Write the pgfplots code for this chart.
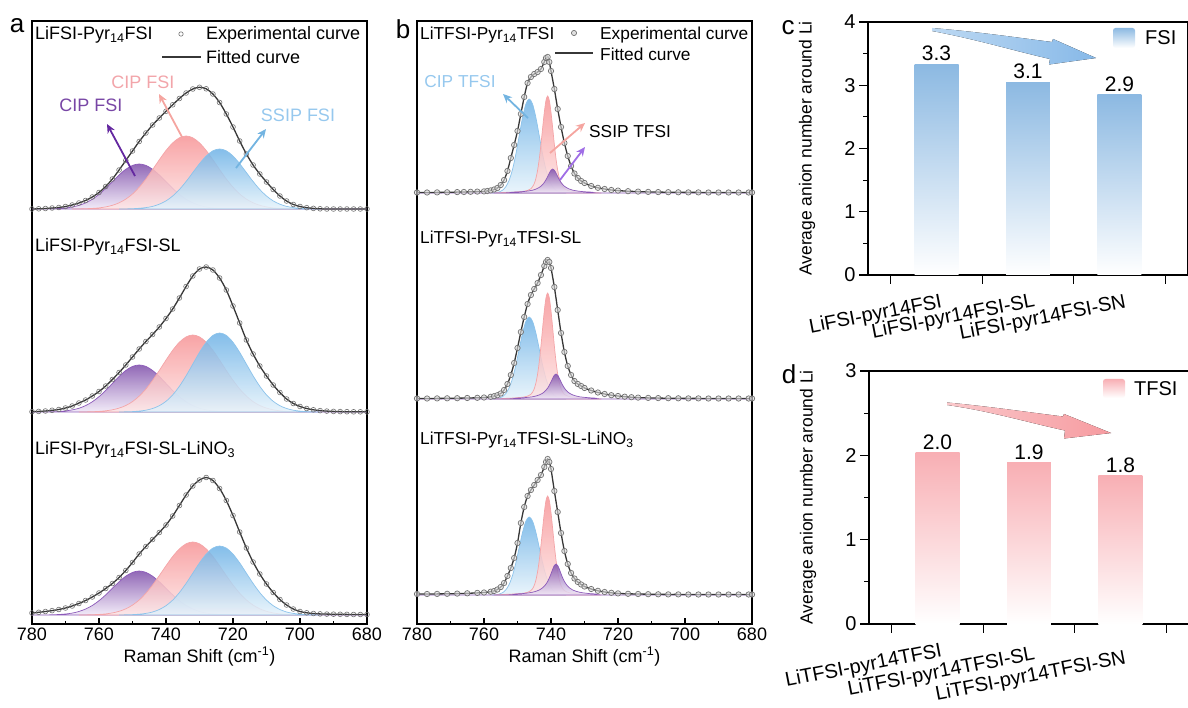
\documentclass[border=0pt]{standalone}
\usepackage{fontspec}
\setmainfont{Liberation Sans}
\usepackage{pgfplots}
\pgfplotsset{compat=1.18}
\usepackage{pgfplotstable}
\usetikzlibrary{arrows.meta}

\definecolor{purpTop}{RGB}{126,78,170}
\definecolor{purpBot}{RGB}{240,232,247}
\definecolor{purpLine}{RGB}{140,90,185}
\definecolor{pinkTop}{RGB}{247,148,150}
\definecolor{pinkBot}{RGB}{253,230,230}
\definecolor{pinkLine}{RGB}{244,165,168}
\definecolor{blueTop}{RGB}{110,178,230}
\definecolor{blueBot}{RGB}{230,243,251}
\definecolor{blueLine}{RGB}{140,195,235}
\definecolor{barBlue}{RGB}{140,185,226}
\definecolor{barPink}{RGB}{248,175,180}
\definecolor{arrBlue}{RGB}{135,185,232}
\definecolor{arrPink}{RGB}{246,155,160}
\definecolor{txtPurp}{RGB}{120,70,165}
\definecolor{txtPink}{RGB}{242,165,170}
\definecolor{txtBlue}{RGB}{150,200,238}
\definecolor{fitGray}{RGB}{55,55,55}
\definecolor{expGray}{RGB}{115,115,115}
\definecolor{aPurp}{RGB}{100,40,160}
\definecolor{aPink}{RGB}{245,165,160}
\definecolor{aBlue}{RGB}{115,180,225}
\definecolor{bPurp}{RGB}{160,110,230}

% ---------- panel a : top (LiFSI-Pyr14FSI), baseline 415 ----------
\pgfplotstableread[row sep=\\]{x y\\780 0\\778 0\\776 0.1\\774 0.2\\772 0.5\\770 1.0\\768 2.0\\766 3.6\\764 6.1\\762 9.7\\760 14.6\\758 20.6\\756 27.3\\754 34.0\\752 39.7\\750 43.6\\748 45\\746 43.6\\744 39.7\\742 34.0\\740 27.3\\738 20.6\\736 14.6\\734 9.7\\732 6.1\\730 3.6\\728 2.0\\726 1.0\\724 0.5\\722 0.2\\720 0.1\\718 0\\680 0\\}\aTP
\pgfplotstableread[row sep=\\]{x y\\768 0\\766 0.1\\764 0.3\\762 0.6\\760 1.1\\758 2.1\\756 3.7\\754 6.2\\752 9.9\\750 15.0\\748 21.8\\746 30.0\\744 39.4\\742 49.2\\740 58.5\\738 66.1\\736 71.2\\734 73\\732 71.2\\730 66.1\\728 58.5\\726 49.2\\724 39.4\\722 30.0\\720 21.8\\718 15.0\\716 9.9\\714 6.2\\712 3.7\\710 2.1\\708 1.1\\706 0.6\\704 0.3\\702 0.1\\700 0\\}\aTR
\pgfplotstableread[row sep=\\]{x y\\754 0\\752 0.1\\750 0.3\\748 0.7\\746 1.4\\744 2.6\\742 4.8\\740 8.1\\738 13.0\\736 19.5\\734 27.5\\732 36.4\\730 45.3\\728 53.0\\726 58.2\\724 60\\722 58.2\\720 53.0\\718 45.3\\716 36.4\\714 27.5\\712 19.5\\710 13.0\\708 8.1\\706 4.8\\704 2.6\\702 1.4\\700 0.7\\698 0.3\\696 0.1\\694 0\\}\aTB
\pgfplotstableread[row sep=\\]{x y\\780 0\\778 0.2\\776 0.5\\774 1.0\\772 1.5\\770 2.5\\768 4\\766 6\\764 8.5\\762 12\\760 16.5\\758 22.5\\756 30\\754 39\\752 48.5\\750 58\\748 67.5\\746 76\\744 84\\742 91\\740 97.7\\738 104.2\\736 110.5\\734 116\\732 120\\730 121.7\\728 120.2\\726 115\\724 106.5\\722 95\\720 82\\718 68\\716 55\\714 44\\712 35\\710 27\\708 19.5\\706 13\\704 8\\702 4.5\\700 2.5\\698 1.3\\696 0.6\\694 0.2\\692 0\\690 0\\688 0\\686 0\\684 0\\682 0\\680 0\\}\aTS
% ---------- panel a : middle (SL), baseline 212 ----------
\pgfplotstableread[row sep=\\]{x y\\780 0\\778 0\\776 0.1\\774 0.2\\772 0.5\\770 1.1\\768 2.1\\766 3.7\\764 6.4\\762 10.2\\760 15.3\\758 21.5\\756 28.5\\754 35.5\\752 41.5\\750 45.6\\748 47\\746 45.6\\744 41.5\\742 35.5\\740 28.5\\738 21.5\\736 15.3\\734 10.2\\732 6.4\\730 3.7\\728 2.1\\726 1.1\\724 0.5\\722 0.2\\720 0.1\\718 0\\680 0\\}\aMP
\pgfplotstableread[row sep=\\]{x y\\766 0\\764 0.1\\762 0.3\\760 0.6\\758 1.2\\756 2.2\\754 3.9\\752 6.5\\750 10.4\\748 15.9\\746 23.0\\744 31.7\\742 41.5\\740 51.9\\738 61.7\\736 69.8\\734 75.1\\732 77\\730 75.1\\728 69.8\\726 61.7\\724 51.9\\722 41.5\\720 31.7\\718 23.0\\716 15.9\\714 10.4\\712 6.5\\710 3.9\\708 2.2\\706 1.2\\704 0.6\\702 0.3\\700 0.1\\698 0\\}\aMR
\pgfplotstableread[row sep=\\]{x y\\754 0\\752 0.2\\750 0.4\\748 0.9\\746 1.8\\744 3.5\\742 6.3\\740 10.7\\738 17.1\\736 25.7\\734 36.2\\732 47.9\\730 59.6\\728 69.7\\726 76.6\\724 79\\722 76.6\\720 69.7\\718 59.6\\716 47.9\\714 36.2\\712 25.7\\710 17.1\\708 10.7\\706 6.3\\704 3.5\\702 1.8\\700 0.9\\698 0.4\\696 0.2\\694 0\\}\aMB
\pgfplotstableread[row sep=\\]{x y\\780 0.3\\778 0.6\\776 1\\774 1.7\\772 2.5\\770 4\\768 6\\766 9\\764 12\\762 16\\760 20.5\\758 26\\756 32.5\\754 39.5\\752 47\\750 55\\748 63\\746 70.5\\744 77.5\\742 85\\740 93.5\\738 103\\736 114\\734 125.5\\732 136\\730 143\\728 145\\726 142\\724 134\\722 122\\720 106\\718 89\\716 72\\714 58\\712 46\\710 36\\708 27\\706 19.5\\704 13\\702 8.5\\700 5.5\\698 3.5\\696 2.2\\694 1.4\\692 0.9\\690 0.6\\688 0.4\\686 0.3\\684 0.2\\682 0.2\\680 0.2\\}\aMS
% ---------- panel a : bottom (SL-LiNO3), baseline 9 ----------
\pgfplotstableread[row sep=\\]{x y\\780 0\\778 0\\776 0.1\\774 0.2\\772 0.5\\770 1.0\\768 1.9\\766 3.5\\764 6.0\\762 9.5\\760 14.3\\758 20.1\\756 26.7\\754 33.2\\752 38.8\\750 42.6\\748 44\\746 42.6\\744 38.8\\742 33.2\\740 26.7\\738 20.1\\736 14.3\\734 9.5\\732 6.0\\730 3.5\\728 1.9\\726 1.0\\724 0.5\\722 0.2\\720 0.1\\718 0\\680 0\\}\aBP
\pgfplotstableread[row sep=\\]{x y\\766 0\\764 0.1\\762 0.3\\760 0.6\\758 1.1\\756 2.1\\754 3.7\\752 6.2\\750 9.9\\748 15.0\\746 21.8\\744 30.0\\742 39.4\\740 49.2\\738 58.5\\736 66.1\\734 71.2\\732 73\\730 71.2\\728 66.1\\726 58.5\\724 49.2\\722 39.4\\720 30.0\\718 21.8\\716 15.0\\714 9.9\\712 6.2\\710 3.7\\708 2.1\\706 1.1\\704 0.6\\702 0.3\\700 0.1\\698 0\\}\aBR
\pgfplotstableread[row sep=\\]{x y\\754 0\\752 0.2\\750 0.4\\748 0.8\\746 1.6\\744 3.0\\742 5.5\\740 9.3\\738 14.9\\736 22.4\\734 31.6\\732 41.8\\730 52.1\\728 60.9\\726 66.9\\724 69\\722 66.9\\720 60.9\\718 52.1\\716 41.8\\714 31.6\\712 22.4\\710 14.9\\708 9.3\\706 5.5\\704 3.0\\702 1.6\\700 0.8\\698 0.4\\696 0.2\\694 0\\}\aBB
\pgfplotstableread[row sep=\\]{x y\\780 2\\778 2.7\\776 3.5\\774 4.4\\772 5.5\\770 7\\768 9\\766 11.5\\764 14.5\\762 18\\760 22\\758 26.5\\756 31.5\\754 37.5\\752 44.5\\750 52.5\\748 61\\746 68.5\\744 75.5\\742 82.5\\740 90\\738 99\\736 109.5\\734 120\\732 129\\730 135\\728 137.5\\726 134.5\\724 126.5\\722 114.5\\720 99.5\\718 83\\716 67\\714 53\\712 41\\710 31\\708 22.5\\706 15.5\\704 10\\702 6\\700 3.5\\698 2.2\\696 1.5\\694 1.1\\692 0.9\\690 0.8\\688 0.7\\686 0.6\\684 0.5\\682 0.5\\680 0.5\\}\aBS

% ---------- panel b : top (LiTFSI-Pyr14TFSI), baseline 431 ----------
\pgfplotstableread[row sep=\\]{x y\\757.5 0\\756.5 0.4\\755.5 1.0\\754.5 2.7\\753.5 6.2\\752.5 12.7\\751.5 23.4\\750.5 38.6\\749.5 57.1\\748.5 75.3\\747.5 88.9\\746.5 94\\745.5 88.9\\744.5 75.3\\743.5 57.1\\742.5 38.6\\741.5 23.4\\740.5 12.7\\739.5 6.2\\738.5 2.7\\737.5 1.0\\736.5 0.4\\735.5 0\\}\bTB
\pgfplotstableread[row sep=\\]{x y\\757 0\\753 0.7\\751 0.9\\749 1.4\\748 1.8\\747 2.6\\746 4.3\\745.5 6.2\\745 9.4\\744.5 14.7\\744 22.8\\743.5 34.1\\743 48.5\\742.5 64.9\\742 80.6\\741.5 92.5\\741 97\\740.5 92.5\\740 80.6\\739.5 64.9\\739 48.5\\738.5 34.1\\738 22.8\\737.5 14.7\\737 9.4\\736.5 6.2\\736 4.3\\735 2.6\\734 1.8\\733 1.4\\731 0.9\\729 0.7\\725 0\\}\bTR
\pgfplotstableread[row sep=\\]{x y\\780 0\\755.5 0\\751.5 0.8\\749.5 1.1\\747.5 1.7\\746.5 2.2\\745.5 2.8\\744.5 3.9\\743.5 5.6\\743 6.8\\742.5 8.4\\742 10.5\\741.5 13.2\\741 16.4\\740.5 19.9\\740 22.8\\739.5 24\\739 22.8\\738.5 19.9\\738 16.4\\737.5 13.2\\737 10.5\\736.5 8.4\\736 6.8\\735.5 5.6\\734.5 3.9\\733.5 2.8\\732.5 2.2\\731.5 1.7\\729.5 1.1\\727.5 0.8\\723.5 0\\680 0\\}\bTP
\pgfplotstableread[row sep=\\]{x y\\780 0.5\\777 0.5\\774 0.6\\771 0.7\\768 0.9\\766 1.0\\764 1.2\\762 1.4\\760 1.6\\759 2.0\\758 2.6\\757 3.5\\756 5\\755 8\\754 13\\753 22\\752 35\\751 48\\750 62\\749 79\\748 96\\747 110\\746 116\\745 119\\744 121\\743 124\\742 131\\741.5 135\\741 136\\740.5 131\\740 122\\739 104\\738 84\\737 66\\736 50\\735 37\\734 27\\733 19.5\\732 15\\731 12\\730 10\\728 7\\726 5.2\\724 4\\722 3\\720 2.4\\717 1.8\\714 1.4\\711 1.1\\708 0.9\\705 0.8\\702 0.7\\699 0.6\\696 0.6\\693 0.5\\690 0.5\\687 0.5\\684 0.5\\681 0.5\\680 0.5\\}\bTS
% ---------- panel b : middle (SL), baseline 225 ----------
\pgfplotstableread[row sep=\\]{x y\\757.5 0\\756.5 0.3\\755.5 0.9\\754.5 2.3\\753.5 5.4\\752.5 11.1\\751.5 20.4\\750.5 33.7\\749.5 49.8\\748.5 65.7\\747.5 77.6\\746.5 82\\745.5 77.6\\744.5 65.7\\743.5 49.8\\742.5 33.7\\741.5 20.4\\740.5 11.1\\739.5 5.4\\738.5 2.3\\737.5 0.9\\736.5 0.3\\735.5 0\\}\bMB
\pgfplotstableread[row sep=\\]{x y\\757 0\\753 0.7\\751 1.0\\749 1.6\\748 2.0\\747 2.9\\746 4.7\\745.5 6.8\\745 10.3\\744.5 16.1\\744 24.9\\743.5 37.3\\743 53.0\\742.5 70.9\\742 88.1\\741.5 101.1\\741 106\\740.5 101.1\\740 88.1\\739.5 70.9\\739 53.0\\738.5 37.3\\738 24.9\\737.5 16.1\\737 10.3\\736.5 6.8\\736 4.7\\735 2.9\\734 2.0\\733 1.6\\731 1.0\\729 0.7\\725 0\\}\bMR
\pgfplotstableread[row sep=\\]{x y\\780 0\\754.5 0\\750.5 0.8\\748.5 1.2\\746.5 1.8\\745.5 2.2\\744.5 3.0\\743.5 4.1\\742.5 5.8\\742 7.1\\741.5 8.8\\741 10.9\\740.5 13.7\\740 17.1\\739.5 20.7\\739 23.8\\738.5 25\\738 23.8\\737.5 20.7\\737 17.1\\736.5 13.7\\736 10.9\\735.5 8.8\\735 7.1\\734.5 5.8\\733.5 4.1\\732.5 3.0\\731.5 2.2\\730.5 1.8\\728.5 1.2\\726.5 0.8\\722.5 0\\680 0\\}\bMP
\pgfplotstableread[row sep=\\]{x y\\780 0.5\\777 0.5\\774 0.6\\771 0.7\\768 0.8\\765 1.0\\762 1.2\\760 1.5\\758 2.2\\757 2.8\\756 3.8\\755 5.5\\754 9\\753 15\\752 24\\751 36\\750 51\\749 67\\748 82\\747 95\\746 104\\745 110\\744 116\\743 124\\742 133\\741.5 137\\741 139\\740.5 137\\740 131\\739 112\\738 89\\737 66\\736 47\\735 33\\734 24\\733 18\\732 15\\731 13\\730 11\\728 8.5\\726 6.5\\724 5\\722 3.8\\720 3\\718 2.3\\716 1.8\\714 1.4\\711 1.1\\708 0.9\\705 0.8\\702 0.7\\699 0.6\\696 0.6\\693 0.5\\690 0.5\\687 0.5\\684 0.5\\681 0.5\\680 0.5\\}\bMS
% ---------- panel b : bottom (SL-LiNO3), baseline 29 ----------
\pgfplotstableread[row sep=\\]{x y\\757.5 0\\756.5 0.3\\755.5 0.9\\754.5 2.2\\753.5 5.1\\752.5 10.5\\751.5 19.4\\750.5 32.1\\749.5 47.3\\748.5 62.5\\747.5 73.8\\746.5 78\\745.5 73.8\\744.5 62.5\\743.5 47.3\\742.5 32.1\\741.5 19.4\\740.5 10.5\\739.5 5.1\\738.5 2.2\\737.5 0.9\\736.5 0.3\\735.5 0\\}\bBB
\pgfplotstableread[row sep=\\]{x y\\757 0\\753 0.7\\751 1.0\\749 1.5\\748 1.9\\747 2.7\\746 4.4\\745.5 6.3\\745 9.6\\744.5 15.0\\744 23.3\\743.5 34.8\\743 49.5\\742.5 66.2\\742 82.3\\741.5 94.4\\741 99\\740.5 94.4\\740 82.3\\739.5 66.2\\739 49.5\\738.5 34.8\\738 23.3\\737.5 15.0\\737 9.6\\736.5 6.3\\736 4.4\\735 2.7\\734 1.9\\733 1.5\\731 1.0\\729 0.7\\725 0\\}\bBR
\pgfplotstableread[row sep=\\]{x y\\780 0\\754.5 0\\750.5 1.0\\748.5 1.4\\746.5 2.2\\745.5 2.8\\744.5 3.7\\743.5 5.0\\742.5 7.2\\742 8.8\\741.5 10.9\\741 13.5\\740.5 17.0\\740 21.2\\739.5 25.7\\739 29.5\\738.5 31\\738 29.5\\737.5 25.7\\737 21.2\\736.5 17.0\\736 13.5\\735.5 10.9\\735 8.8\\734.5 7.2\\733.5 5.0\\732.5 3.7\\731.5 2.8\\730.5 2.2\\728.5 1.4\\726.5 1.0\\722.5 0\\680 0\\}\bBP
\pgfplotstableread[row sep=\\]{x y\\780 1.0\\777 1.0\\774 1.1\\771 1.2\\768 1.4\\765 1.7\\762 2.1\\760 2.5\\758 3.3\\757 4\\756 5.5\\755 8\\754 12\\753 19\\752 27\\751 37\\750 52\\749 72\\748 88\\747 99\\746 105\\745 110\\744 115\\743 120\\742 128\\741.5 133\\741 136\\740.5 133\\740 126\\739 104\\738 83\\737 62\\736 44\\735 31\\734 22\\733 16.5\\732 13\\731 10.5\\730 8.5\\728 6\\726 4.2\\724 3\\722 2.2\\720 1.6\\717 1.2\\714 1.0\\711 0.8\\708 0.7\\705 0.6\\702 0.6\\699 0.5\\696 0.5\\693 0.5\\690 0.5\\687 0.5\\684 0.5\\681 0.5\\680 0.5\\}\bBS

\pgfplotsset{
  spec/.style={
    scale only axis, width=335pt, height=603pt, anchor=south west,
    xmin=680, xmax=780, x dir=reverse, ymin=0, ymax=603,
    ytick=\empty, xtick={680,700,...,780}, minor x tick num=1,
    tick align=inside, xtick pos=left,
    major tick length=6pt, minor tick length=3.5pt,
    axis line style={line width=1.5pt}, tick style={line width=1.1pt, black},
    xlabel={Raman Shift (cm\textsuperscript{-1})},
    /pgf/number format/assume math mode=true,
    font=\fontsize{18}{21}\selectfont,
  },
  bars/.style={
    scale only axis, width=320pt, height=253pt, anchor=south west,
    xmin=-0.25, xmax=3.25, ymin=0,
    minor y tick num=1, xtick={0,1,2,3}, xticklabels={},
    tick align=outside, xtick pos=left, ytick pos=left,
    major tick length=9pt, minor tick length=5pt,
    axis line style={line width=1.4pt}, tick style={line width=1.2pt, black},
    ylabel={Average anion number around Li},
    every axis y label/.style={at={(axis description cs:-0.19,0.5)}, rotate=90, anchor=center, font=\fontsize{17.5}{20}\selectfont},
    /pgf/number format/assume math mode=true,
    font=\fontsize{20}{24}\selectfont, clip=false,
  },
  compP/.style={draw=purpLine, line width=0.7pt, top color=purpTop, bottom color=purpBot, fill opacity=0.85, smooth},
  compR/.style={draw=pinkLine, line width=0.7pt, top color=pinkTop, bottom color=pinkBot, fill opacity=0.85, smooth},
  compB/.style={draw=blueLine, line width=0.7pt, top color=blueTop, bottom color=blueBot, fill opacity=0.85, smooth},
  fit/.style={draw=fitGray, line width=1.3pt, smooth},
  expa/.style={only marks, mark=o, mark size=2.4pt, mark options={draw=expGray, line width=0.6pt}},
  expb/.style={only marks, mark=*, mark size=2.7pt, mark options={draw=expGray, fill=gray!25, fill opacity=0.6, line width=0.7pt}},
}

\begin{document}
\begin{tikzpicture}
\useasboundingbox (0pt,0pt) rectangle (1188pt,707pt);

% ================= panel a =================
\begin{axis}[spec, at={(32pt,83pt)}]
\addplot[compP] table[y expr=\thisrow{y}+415] {\aTP} -- cycle;
\addplot[compR] table[y expr=\thisrow{y}+415] {\aTR} -- cycle;
\addplot[compB] table[y expr=\thisrow{y}+415] {\aTB} -- cycle;
\addplot[fit]  table[y expr=\thisrow{y}+415] {\aTS};
\addplot[expa] table[y expr=\thisrow{y}+415] {\aTS};
\addplot[compP] table[y expr=\thisrow{y}+212] {\aMP} -- cycle;
\addplot[compR] table[y expr=\thisrow{y}+212] {\aMR} -- cycle;
\addplot[compB] table[y expr=\thisrow{y}+212] {\aMB} -- cycle;
\addplot[fit]  table[y expr=\thisrow{y}+212] {\aMS};
\addplot[expa] table[y expr=\thisrow{y}+212] {\aMS};
\addplot[compP] table[y expr=\thisrow{y}+9] {\aBP} -- cycle;
\addplot[compR] table[y expr=\thisrow{y}+9] {\aBR} -- cycle;
\addplot[compB] table[y expr=\thisrow{y}+9] {\aBB} -- cycle;
\addplot[fit]  table[y expr=\thisrow{y}+9] {\aBS};
\addplot[expa] table[y expr=\thisrow{y}+9] {\aBS};
\end{axis}

% ================= panel b =================
\begin{axis}[spec, at={(417pt,83pt)}]
\addplot[compB] table[y expr=\thisrow{y}+431] {\bTB} -- cycle;
\addplot[compR] table[y expr=\thisrow{y}+431] {\bTR} -- cycle;
\addplot[compP] table[y expr=\thisrow{y}+431] {\bTP} -- cycle;
\addplot[fit]  table[y expr=\thisrow{y}+431] {\bTS};
\addplot[expb] table[y expr=\thisrow{y}+431] {\bTS};
\addplot[compB] table[y expr=\thisrow{y}+225] {\bMB} -- cycle;
\addplot[compR] table[y expr=\thisrow{y}+225] {\bMR} -- cycle;
\addplot[compP] table[y expr=\thisrow{y}+225] {\bMP} -- cycle;
\addplot[fit]  table[y expr=\thisrow{y}+225] {\bMS};
\addplot[expb] table[y expr=\thisrow{y}+225] {\bMS};
\addplot[compB] table[y expr=\thisrow{y}+29] {\bBB} -- cycle;
\addplot[compR] table[y expr=\thisrow{y}+29] {\bBR} -- cycle;
\addplot[compP] table[y expr=\thisrow{y}+29] {\bBP} -- cycle;
\addplot[fit]  table[y expr=\thisrow{y}+29] {\bBS};
\addplot[expb] table[y expr=\thisrow{y}+29] {\bBS};
\end{axis}

% ================= panel c =================
\begin{axis}[bars, at={(868pt,432pt)}, ymax=4, ytick={0,1,2,3,4}]
\addplot[ybar, bar width=0.48, bar shift=0pt, draw=none, top color=barBlue, bottom color=white] coordinates {(0.5,3.33)};
\addplot[ybar, bar width=0.48, bar shift=0pt, draw=none, top color=barBlue, bottom color=white] coordinates {(1.5,3.05)};
\addplot[ybar, bar width=0.48, bar shift=0pt, draw=none, top color=barBlue, bottom color=white] coordinates {(2.5,2.85)};
\node[anchor=south, inner sep=0pt, yshift=3pt, font=\fontsize{21}{24}\selectfont] at (axis cs:0.5,3.33) {3.3};
\node[anchor=south, inner sep=0pt, yshift=3pt, font=\fontsize{21}{24}\selectfont] at (axis cs:1.5,3.05) {3.1};
\node[anchor=south, inner sep=0pt, yshift=3pt, font=\fontsize{21}{24}\selectfont] at (axis cs:2.5,2.85) {2.9};
\end{axis}

% ================= panel d =================
\begin{axis}[bars, at={(869pt,83pt)}, ymax=3, ytick={0,1,2,3}]
\addplot[ybar, bar width=0.48, bar shift=0pt, draw=none, top color=barPink, bottom color=white] coordinates {(0.5,2.03)};
\addplot[ybar, bar width=0.48, bar shift=0pt, draw=none, top color=barPink, bottom color=white] coordinates {(1.5,1.91)};
\addplot[ybar, bar width=0.48, bar shift=0pt, draw=none, top color=barPink, bottom color=white] coordinates {(2.5,1.76)};
\node[anchor=south, inner sep=0pt, yshift=3pt, font=\fontsize{21}{24}\selectfont] at (axis cs:0.5,2.03) {2.0};
\node[anchor=south, inner sep=0pt, yshift=3pt, font=\fontsize{21}{24}\selectfont] at (axis cs:1.5,1.91) {1.9};
\node[anchor=south, inner sep=0pt, yshift=3pt, font=\fontsize{21}{24}\selectfont] at (axis cs:2.5,1.76) {1.8};
\end{axis}

% ================= annotations (page coordinates, 1pt = 1px) =================
\begin{scope}[x=1pt, y=1pt, every node/.style={inner sep=0pt}, font=\fontsize{18}{21}\selectfont,
  arr/.style={line width=1.8pt, -{Stealth[length=9pt, width=8pt]}}]
% panel letters
\node[font=\fontsize{26}{30}\selectfont] at (17,681) {a};
\node[font=\fontsize{26}{30}\selectfont] at (403,678) {b};
\node[font=\fontsize{26}{30}\selectfont] at (788,679) {c};
\node[font=\fontsize{26}{30}\selectfont] at (789,333) {d};
% panel a
\node[anchor=west] at (35,672) {LiFSI-Pyr\textsubscript{14}FSI};
\draw[expGray, line width=0.6pt] (181,673) circle (2.2pt);
\node[anchor=west] at (206,672) {Experimental curve};
\draw[fitGray, line width=1.3pt] (162,650) -- (201,650);
\node[anchor=west] at (206,650) {Fitted curve};
\node[text=txtPurp] at (91,602) {CIP FSI};
\node[text=txtPink] at (143,625) {CIP FSI};
\node[text=txtBlue] at (298,592) {SSIP FSI};
\draw[arr, aPurp] (135,531) -- (107,583);
\draw[arr, aPink] (182,570) -- (159,613);
\draw[arr, aBlue] (236,539) -- (266,578);
\node[anchor=west] at (35,460) {LiFSI-Pyr\textsubscript{14}FSI-SL};
\node[anchor=west] at (35,257) {LiFSI-Pyr\textsubscript{14}FSI-SL-LiNO\textsubscript{3}};
% panel b
\begin{scope}[font=\fontsize{17.3}{20}\selectfont]
\node[anchor=west] at (420,672) {LiTFSI-Pyr\textsubscript{14}TFSI};
\draw[expGray, fill=gray!25, line width=0.7pt] (574,674) circle (2.6pt);
\node[anchor=west] at (600,672) {Experimental curve};
\draw[fitGray, line width=1.3pt] (555,654) -- (593,654);
\node[anchor=west] at (600,653) {Fitted curve};
\node[text=txtBlue] at (460,625) {CIP TFSI};
\node[anchor=west] at (589,575) {SSIP TFSI};
\node[anchor=west] at (420,468) {LiTFSI-Pyr\textsubscript{14}TFSI-SL};
\node[anchor=west] at (420,267) {LiTFSI-Pyr\textsubscript{14}TFSI-SL-LiNO\textsubscript{3}};
\end{scope}
\draw[arr, aBlue] (528,589) -- (503,613);
\draw[arr, aPink] (550,554) -- (585,584);
\draw[arr, bPurp] (560,527) -- (585,560);
% panel c
\begin{scope}[font=\fontsize{20}{24}\selectfont]
\fill[left color=arrBlue!55, right color=arrBlue] (932,679) .. controls (980,675) and (1020,669) .. (1052,665) -- (1053,668) -- (1096,649) -- (1049,642.5) -- (1050,648) .. controls (1015,656) and (975,668) .. (932,676) -- cycle;
\shade[top color=barBlue, bottom color=white, rounded corners=2.5pt] (1113,659) rectangle (1135,679);
\node[anchor=west] at (1145,669) {FSI};
\node[rotate=11, anchor=north east] at (940,414) {LiFSI-pyr14FSI};
\node[rotate=11, anchor=north east] at (1033,415) {LiFSI-pyr14FSI-SL};
\node[rotate=11, anchor=north east] at (1124,414) {LiFSI-pyr14FSI-SN};
% panel d
\fill[left color=arrPink!55, right color=arrPink] (947,304.5) .. controls (990,300.5) and (1030,294.5) .. (1063,290.5) -- (1064,293) -- (1111,274) -- (1064,268.5) -- (1065,276.5) .. controls (1030,284) and (990,296) .. (947,302) -- cycle;
\shade[top color=barPink, bottom color=white, rounded corners=2.5pt] (1103,309) rectangle (1125,328);
\node[anchor=west] at (1134,318) {TFSI};
\node[rotate=11, anchor=north east] at (940,65) {LiTFSI-pyr14TFSI};
\node[rotate=11, anchor=north east] at (1033,62) {LiTFSI-pyr14TFSI-SL};
\node[rotate=11, anchor=north east] at (1124,58) {LiTFSI-pyr14TFSI-SN};
\end{scope}
\end{scope}
\end{tikzpicture}
\end{document}
